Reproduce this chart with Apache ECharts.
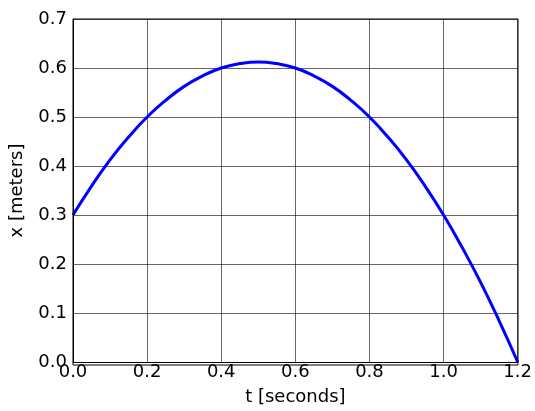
<!DOCTYPE html>
<html><head><meta charset="utf-8">
<script src="https://cdn.jsdelivr.net/npm/echarts@6/dist/echarts.min.js"></script>
<style>html,body{margin:0;padding:0;background:#fff;overflow:hidden}#c{width:535px;height:411px}</style>
</head><body><div id="c"></div>
<script>
var tValues = [0, 0.05, 0.1, 0.15, 0.2, 0.25, 0.3, 0.35, 0.4, 0.45, 0.5, 0.55, 0.6, 0.65, 0.7, 0.75, 0.8, 0.85, 0.9, 0.95, 1.0, 1.05, 1.1, 1.15, 1.2];
var xValues = [0.3, 0.359, 0.4125, 0.459, 0.5, 0.534, 0.5625, 0.584, 0.6, 0.609, 0.6125, 0.609, 0.6, 0.584, 0.5625, 0.534, 0.5, 0.459, 0.4125, 0.359, 0.3, 0.234, 0.1625, 0.084, 0.0];
var xAxisName = 't [seconds]';
var yAxisName = 'x [meters]';

var chart = echarts.init(document.getElementById('c'), null, {renderer: 'canvas', width: 535, height: 411});
var font = 'DejaVu Sans';
chart.setOption({
  animation: false,
  grid: {left: 73, top: 19, width: 445, height: 346, containLabel: false},
  xAxis: {
    type: 'value', min: 0, max: 1.2, interval: 0.2,
    name: xAxisName, nameLocation: 'middle', nameGap: 35,
    nameTextStyle: {fontFamily: font, fontSize: 18, color: '#000', verticalAlign: 'middle'},
    axisLine: {show: true, lineStyle: {color: '#000', width: 1}},
    axisTick: {show: false},
    axisLabel: {fontFamily: font, fontSize: 18, color: '#000', margin: 1, formatter: function(v){return v.toFixed(1);}},
    splitLine: {show: true, lineStyle: {color: '#000', width: 0.6}}
  },
  yAxis: {
    type: 'value', min: 0, max: 0.7, interval: 0.1,
    name: yAxisName, nameLocation: 'middle', nameGap: 56, nameRotate: 90,
    nameTextStyle: {fontFamily: font, fontSize: 18, color: '#000', verticalAlign: 'middle'},
    axisLine: {show: true, lineStyle: {color: '#000', width: 1}},
    axisTick: {show: false},
    axisLabel: {fontFamily: font, fontSize: 18, color: '#000', margin: 6, formatter: function(v){return v.toFixed(1);}},
    splitLine: {show: true, lineStyle: {color: '#000', width: 0.6}}
  },
  series: [{
    type: 'line', smooth: true, showSymbol: false,
    data: tValues.map(function(t, i){return [t, xValues[i]];}),
    lineStyle: {color: '#0000ff', width: 3}
  }],
  graphic: [{
    type: 'rect', shape: {x: 73, y: 19, width: 445, height: 346},
    style: {fill: 'none', stroke: '#000', lineWidth: 1}, silent: true, z: 100
  }]
});
</script></body></html>
